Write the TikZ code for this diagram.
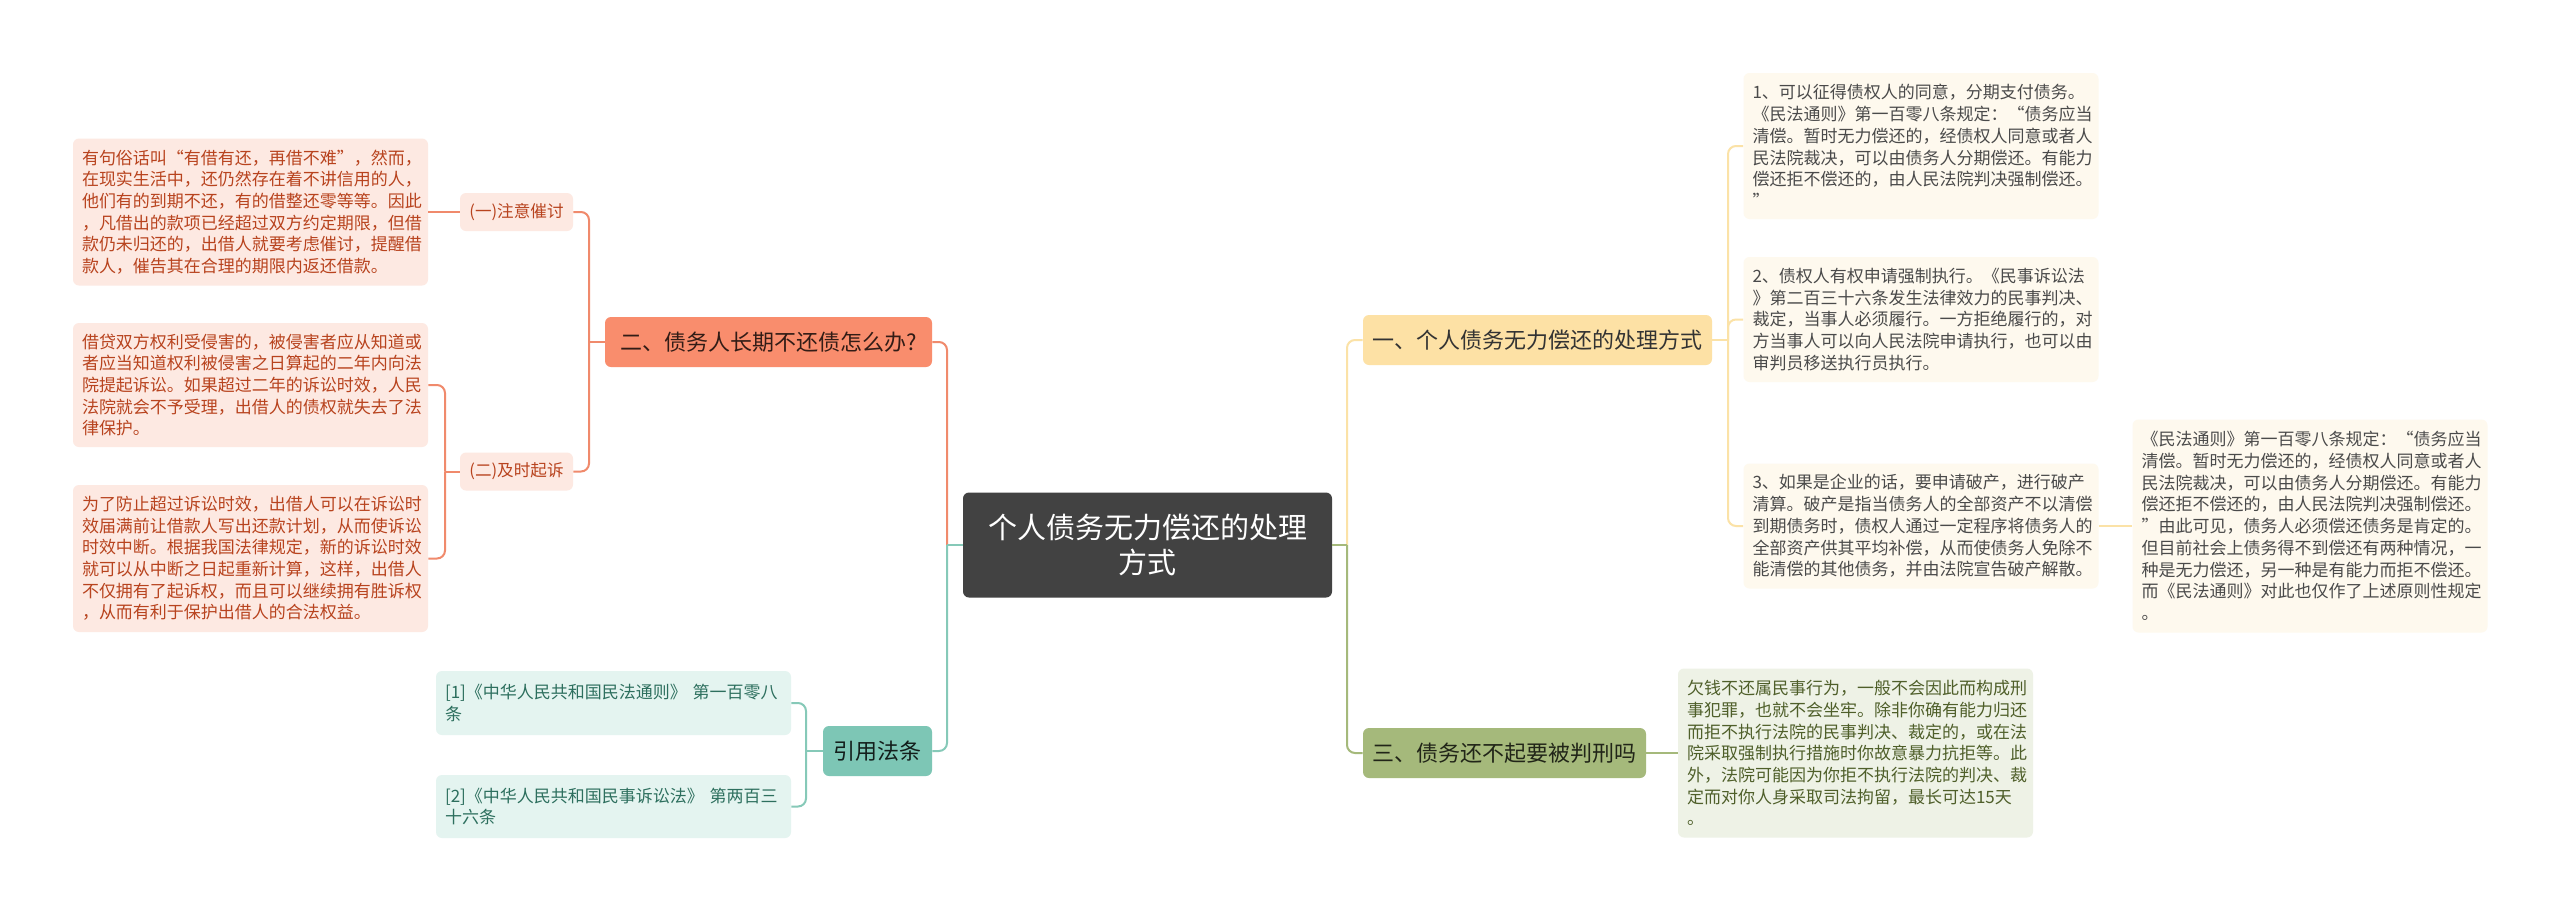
\documentclass[tikz,border=0pt]{standalone}
\usepackage{fontspec}
\setmainfont{Noto Sans CJK SC}
\definecolor{rootfill}{HTML}{424242}
\definecolor{orline}{HTML}{F08A6C}
\definecolor{orfill}{HTML}{F98D6D}
\definecolor{orleaf}{HTML}{FDE9E2}
\definecolor{ortext}{HTML}{B8431E}
\definecolor{yeline}{HTML}{FBE2A7}
\definecolor{yefill}{HTML}{FDE1A5}
\definecolor{yeleaf}{HTML}{FEF9EE}
\definecolor{yetext}{HTML}{4A4A4A}
\definecolor{grline}{HTML}{A5B97B}
\definecolor{grleaf}{HTML}{EEF2E6}
\definecolor{grtext}{HTML}{4F5F2A}
\definecolor{tlline}{HTML}{86C9B8}
\definecolor{tlfill}{HTML}{7DC6B5}
\definecolor{tlleaf}{HTML}{E4F4F0}
\definecolor{tltext}{HTML}{2D6F5E}

\begin{document}
\begin{tikzpicture}[x=0.5pt,y=-0.5pt,
  leaf/.style={rounded corners=3pt,inner xsep=4.5pt,inner ysep=0pt,align=left,text width=168.5pt,minimum width=177.5pt,font=\fontsize{8.5}{10.85}\selectfont},
  twig/.style={rounded corners=3pt,inner sep=0pt,minimum width=56.5pt,minimum height=19pt,font=\fontsize{8.3}{10}\selectfont,fill=orleaf,text=ortext},
  branch/.style={rounded corners=3pt,inner sep=0pt,minimum height=25pt,font=\fontsize{11}{13}\selectfont},
  olink/.style={draw=orline,line width=1pt,rounded corners=4pt},
  ylink/.style={draw=yeline,line width=1pt,rounded corners=4pt},
  glink/.style={draw=grline,line width=1pt,rounded corners=4pt},
  tlink/.style={draw=tlline,line width=1pt,rounded corners=4pt}]
\fill[white] (0,0) rectangle (2560,911);
\useasboundingbox (0,0) rectangle (2560,911);

\node[rounded corners=3pt,fill=rootfill,text=white,align=center,minimum width=184.5pt,minimum height=52.5pt,inner sep=0pt,font=\fontsize{14.5}{17.5}\selectfont] (root) at (1147.5,545) {个人债务无力偿还的处理\\方式};

\node[branch,fill=orfill,text=black!80!orfill,minimum width=163.5pt] (two) at (768.5,342) {二、债务人长期不还债怎么办?};
\node[twig] (two1) at (516.5,212) {(一)注意催讨};
\node[twig] (two2) at (516.5,471.5) {(二)及时起诉};
\node[leaf,fill=orleaf,text=ortext,minimum height=73.5pt] (t1) at (250.5,212) {有句俗话叫“有借有还，再借不难”，然而，\\在现实生活中，还仍然存在着不讲信用的人，\\他们有的到期不还，有的借整还零等等。因此\\，凡借出的款项已经超过双方约定期限，但借\\款仍未归还的，出借人就要考虑催讨，提醒借\\款人，催告其在合理的期限内返还借款。};
\node[leaf,fill=orleaf,text=ortext,minimum height=62pt] (t2a) at (250.5,385) {借贷双方权利受侵害的，被侵害者应从知道或\\者应当知道权利被侵害之日算起的二年内向法\\院提起诉讼。如果超过二年的诉讼时效，人民\\法院就会不予受理，出借人的债权就失去了法\\律保护。};
\node[leaf,fill=orleaf,text=ortext,minimum height=73.5pt] (t2b) at (250.5,558.5) {为了防止超过诉讼时效，出借人可以在诉讼时\\效届满前让借款人写出还款计划，从而使诉讼\\时效中断。根据我国法律规定，新的诉讼时效\\就可以从中断之日起重新计算，这样，出借人\\不仅拥有了起诉权，而且可以继续拥有胜诉权\\，从而有利于保护出借人的合法权益。};

\node[branch,fill=tlfill,text=black!85!tlfill,minimum width=54.5pt] (cite) at (877.5,751) {引用法条};
\node[leaf,fill=tlleaf,text=tltext,minimum height=32pt] (r1) at (613.5,703) {[1]《中华人民共和国民法通则》 第一百零八\\条};
\node[leaf,fill=tlleaf,text=tltext,minimum height=31.5pt] (r2) at (613.5,806.5) {[2]《中华人民共和国民事诉讼法》 第两百三\\十六条};

\node[branch,fill=yefill,text=black!80,minimum width=174.5pt] (one) at (1537.5,340) {一、个人债务无力偿还的处理方式};
\node[leaf,fill=yeleaf,text=yetext,minimum height=73pt] (y1) at (1921,146) {1、可以征得债权人的同意，分期支付债务。\\《民法通则》第一百零八条规定：“债务应当\\清偿。暂时无力偿还的，经债权人同意或者人\\民法院裁决，可以由债务人分期偿还。有能力\\偿还拒不偿还的，由人民法院判决强制偿还。\\”};
\node[leaf,fill=yeleaf,text=yetext,minimum height=62.5pt] (y2) at (1921,319.5) {2、债权人有权申请强制执行。《民事诉讼法\\》第二百三十六条发生法律效力的民事判决、\\裁定，当事人必须履行。一方拒绝履行的，对\\方当事人可以向人民法院申请执行，也可以由\\审判员移送执行员执行。};
\node[leaf,fill=yeleaf,text=yetext,minimum height=62.5pt] (y3) at (1921,526) {3、如果是企业的话，要申请破产，进行破产\\清算。破产是指当债务人的全部资产不以清偿\\到期债务时，债权人通过一定程序将债务人的\\全部资产供其平均补偿，从而使债务人免除不\\能清偿的其他债务，并由法院宣告破产解散。};
\node[leaf,fill=yeleaf,text=yetext,minimum height=106.5pt] (y4) at (2310,526) {《民法通则》第一百零八条规定：“债务应当\\清偿。暂时无力偿还的，经债权人同意或者人\\民法院裁决，可以由债务人分期偿还。有能力\\偿还拒不偿还的，由人民法院判决强制偿还。\\”由此可见，债务人必须偿还债务是肯定的。\\但目前社会上债务得不到偿还有两种情况，一\\种是无力偿还，另一种是有能力而拒不偿还。\\而《民法通则》对此也仅作了上述原则性规定\\。};

\node[branch,fill=grline,text=black!80!grline,minimum width=141.5pt] (three) at (1504.5,753) {三、债务还不起要被判刑吗};
\node[leaf,fill=grleaf,text=grtext,minimum height=84.5pt] (g1) at (1855.5,753) {欠钱不还属民事行为，一般不会因此而构成刑\\事犯罪，也就不会坐牢。除非你确有能力归还\\而拒不执行法院的民事判决、裁定的，或在法\\院采取强制执行措施时你故意暴力抗拒等。此\\外，法院可能因为你拒不执行法院的判决、裁\\定而对你人身采取司法拘留，最长可达15天\\。};

\coordinate (rl) at (947,545);
\coordinate (rr) at (1347,545);
\coordinate (tj) at (589,342);
\coordinate (tk) at (445,471.5);
\coordinate (ck) at (806,751);
\coordinate (oj) at (1728,340);

\draw[olink] (rl) |- (two.east);
\draw[tlink] (root.west) -- (rl);
\draw[tlink] (rl) |- (cite.east);
\draw[ylink] (rr) |- (one.west);
\draw[glink] (root.east) -- (rr);
\draw[glink] (rr) |- (three.west);

\draw[olink] (two.west) -- (tj);
\draw[olink] (tj) |- (two1.east);
\draw[olink] (tj) |- (two2.east);
\draw[olink] (two1.west) -- (t1.east);
\draw[olink] (two2.west) -- (tk);
\draw[olink] (tk) |- (t2a.east);
\draw[olink] (tk) |- (t2b.east);

\draw[tlink] (cite.west) -- (ck);
\draw[tlink] (ck) |- (r1.east);
\draw[tlink] (ck) |- (r2.east);

\draw[ylink] (one.east) -- (oj);
\draw[ylink] (oj) |- (y1.west);
\draw[ylink] (oj) |- (y2.west);
\draw[ylink] (oj) |- (y3.west);
\draw[ylink] (y3.east) -- (y4.west);

\draw[glink] (three.east) -- (g1.west);
\end{tikzpicture}
\end{document}
